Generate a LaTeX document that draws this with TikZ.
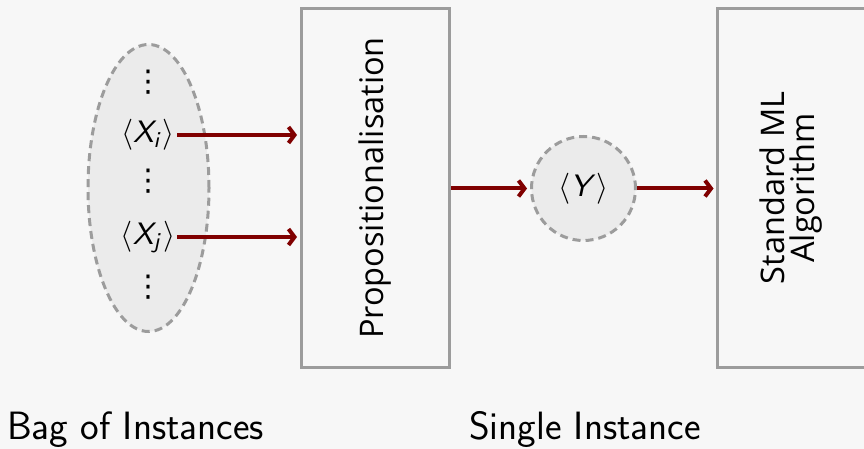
\documentclass[tikz,border=0pt]{standalone}
\usepackage{fontspec}
\usepackage{amsmath}
\newfontfamily\uifont{Open Sans}
\newfontfamily\symfont{DejaVu Sans}
\usetikzlibrary{arrows.meta,shapes.geometric}
\DeclareMathAlphabet{\mathsfit}{OT1}{cmss}{m}{sl}
\definecolor{bg}{HTML}{F7F7F7}
\definecolor{bagfill}{HTML}{EBEBEB}
\definecolor{boxgray}{HTML}{9C9C9C}
\definecolor{arrowred}{HTML}{800000}
\begin{document}
\begin{tikzpicture}[x=1pt,y=-1pt,
  box/.style={draw=boxgray, line width=3pt, minimum width=148pt, minimum height=359pt, inner sep=0pt},
  bag/.style={draw=boxgray, fill=bagfill, line width=3pt, dash pattern=on 8pt off 5pt, inner sep=0pt},
  flow/.style={draw=arrowred, line width=4pt, -{Straight Barb[length=6pt,width=16pt]}},
  mathlbl/.style={inner sep=2pt},
  dotlbl/.style={inner sep=0pt, font=\symfont\fontsize{30}{30}\selectfont},
  uilbl/.style={font=\uifont\fontsize{32.5}{30}\selectfont, rotate=90, align=center},
  caption/.style={font=\sffamily\fontsize{39.5}{44}\selectfont, inner sep=0pt}
  ]
\useasboundingbox[fill=bg] (0,0) rectangle (864,449);
% bag of instances
\node[bag, ellipse, minimum width=121pt, minimum height=287pt] (bag) at (148.5,188) {};
\node[dotlbl] (d1) at (148,82) {⋮};
\node[mathlbl] (xi) at (148,135) {\scalebox{3.1}{$\langle\mathsfit{X}_{\mathsfit{i}}\rangle$}};
\node[dotlbl] (d2) at (148,181) {⋮};
\node[mathlbl] (xj) at (148,237) {\scalebox{3.1}{$\langle\mathsfit{X}_{\mathsfit{j}}\rangle$}};
\node[dotlbl] (d3) at (148,287) {⋮};
% propositionalisation box
\node[box] (prop) at (375.5,188) {};
\node[uilbl] (propt) at (prop.center) {Propositionalisation};
% single instance
\node[bag, circle, minimum size=104pt] (y) at (583.5,188.5) {\scalebox{3.1}{$\langle\mathsfit{Y}\rangle$}};
% standard ML box
\node[box] (alg) at (791,188) {};
\node[uilbl] (algt) at (alg.center) {Standard ML\\Algorithm};
% connectors
\draw[flow, shorten >=3pt] (xi.east) -- (xi.east -| prop.west);
\draw[flow, shorten >=3pt] (xj.east) -- (xj.east -| prop.west);
\draw[flow, shorten >=3pt] (prop.east |- y.west) -- (y.west);
\draw[flow, shorten >=2pt] (y.east) -- (y.east -| alg.west);
% captions
\node[caption, anchor=base west] (bagl) at (7,439) {Bag of Instances};
\node[caption, anchor=base] (singl) at (585,439) {Single Instance};
\end{tikzpicture}
\end{document}
